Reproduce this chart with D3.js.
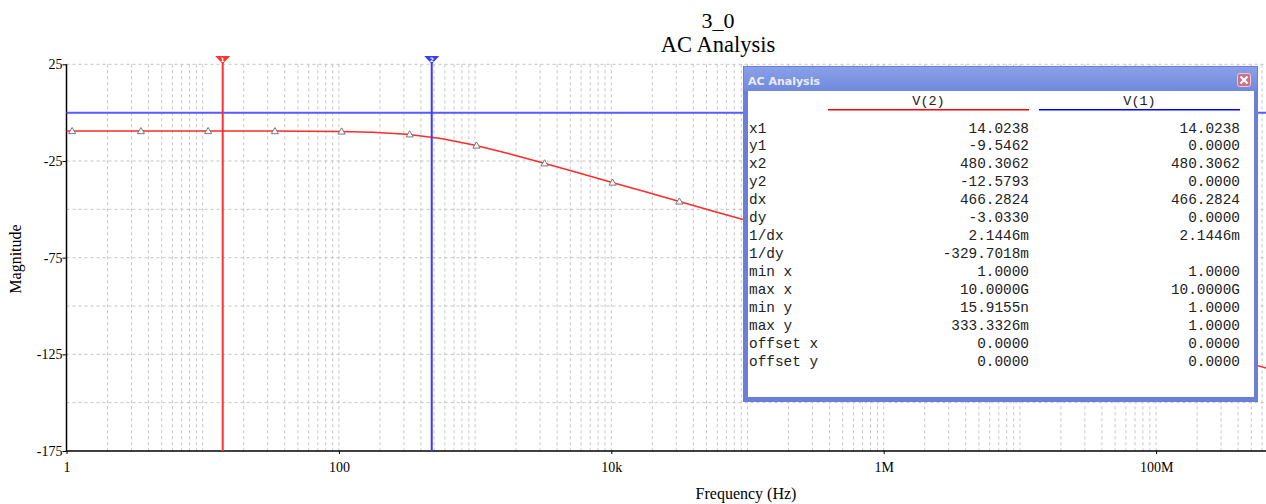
<!DOCTYPE html>
<html><head><meta charset="utf-8">
<script src="https://cdn.jsdelivr.net/npm/d3@7/dist/d3.min.js"></script>
<style>html,body{margin:0;padding:0;background:#fff;overflow:hidden}svg{display:block}</style>
</head><body><svg id="c" width="1266" height="504"></svg>
<script>
// ---- data ----
const freqHz = [1, 1.778, 3.162, 5.623, 10, 17.78, 31.62, 56.23, 100, 177.8, 316.2, 562.3,
  1000, 1778, 3162, 5623, 10000, 17783, 31623, 56234, 1e5, 3.162e5, 1e6, 3.162e6, 1e7,
  3.162e7, 1e8, 3.162e8, 1e9, 3.162e9, 1e10];
const magV2 = [-9.54, -9.54, -9.54, -9.54, -9.54, -9.55, -9.56, -9.60, -9.73, -10.11, -11.12, -13.32,
  -16.85, -21.27, -26.06, -30.99, -35.97, -40.96, -45.96, -50.96, -55.96, -65.96, -75.96, -85.96, -95.96,
  -105.96, -115.96, -125.96, -135.96, -145.96, -155.96];
const markerHz = [1.1, 3.52, 10.96, 33.9, 104.7, 331, 1023, 3236, 10230, 31600];
const markerV2 = [-9.54, -9.54, -9.54, -9.56, -9.75, -11.25, -17.01, -26.25, -36.17, -45.96];
const magV1 = 0;
const cursorHz = [14.0238, 480.3062];
const cursorIds = ["1", "2"];
const xTickHz = [1, 100, 1e4, 1e6, 1e8];
const xTickLabels = ["1", "100", "10k", "1M", "100M"];
const yTicks = [25, -25, -75, -125, -175];
const yGrid = [25, 0, -25, -50, -75, -100, -125, -150];
const titleLines = ["3_0", "AC Analysis"];
const tableRows = ["x1","y1","x2","y2","dx","dy","1/dx","1/dy","min x","max x","min y","max y","offset x","offset y"];
const tableV2 = ["14.0238","-9.5462","480.3062","-12.5793","466.2824","-3.0330","2.1446m","-329.7018m","1.0000","10.0000G","15.9155n","333.3326m","0.0000","0.0000"];
const tableV1 = ["14.0238","0.0000","480.3062","0.0000","466.2824","0.0000","2.1446m","","1.0000","10.0000G","1.0000","1.0000","0.0000","0.0000"];
const seriesNames = ["V(2)", "V(1)"];

// ---- layout ----
const L = 66.5, T = 64.3, B = 451, R = 66.5 + 10 * 136.2;
const svg = d3.select("#c");
const x = d3.scaleLog().domain([1, 1e10]).range([L, R]);
const y = d3.scaleLinear().domain([-175, 25]).range([B, T]);
const serif = "'Liberation Serif','Times New Roman',serif";
const mono = "'Liberation Mono','Courier New',monospace";

// grid
const gridV = [];
for (let k = 0; k < 10; k++) for (let m = 1; m < 10; m++) { const v = m * Math.pow(10, k); if (v > 1) gridV.push(v); }
svg.append("g").selectAll("line").data(gridV).join("line")
  .attr("x1", d => x(d)).attr("x2", d => x(d)).attr("y1", T).attr("y2", B)
  .attr("stroke", "#c4c4c4").attr("stroke-width", 1).attr("stroke-dasharray", "3,3");
svg.append("g").selectAll("line").data(yGrid).join("line")
  .attr("x1", L).attr("x2", R).attr("y1", d => y(d)).attr("y2", d => y(d))
  .attr("stroke", "#c4c4c4").attr("stroke-width", 1).attr("stroke-dasharray", "3,3");

// axes
const yAxis = d3.axisLeft(y).tickValues(yTicks).tickSize(4).tickFormat(d => String(d));
const gy = svg.append("g").attr("transform", `translate(${L},0)`).call(yAxis);
gy.select(".domain").attr("stroke", "#000").attr("stroke-width", 1.5).attr("d", `M0,${T}V${B}`);
gy.selectAll("text").attr("font-family", serif).attr("font-size", 14).attr("fill", "#000").attr("x", -4);
const xAxis = d3.axisBottom(x).tickValues(xTickHz).tickSize(3).tickFormat((d, i) => xTickLabels[i]);
const gx = svg.append("g").attr("transform", `translate(0,${B})`).call(xAxis);
gx.select(".domain").attr("stroke", "#000").attr("stroke-width", 1.5).attr("d", `M${L},0H${R}`);
gx.selectAll("text").attr("font-family", serif).attr("font-size", 14).attr("fill", "#000").attr("y", 11);

// V(1) line
svg.append("line").attr("x1", L).attr("x2", R).attr("y1", y(magV1)).attr("y2", y(magV1))
  .attr("stroke", "#5a5aff").attr("stroke-width", 2);

// V(2) curve
const line = d3.line().x((d, i) => x(freqHz[i])).y(d => y(d));
svg.append("path").datum(magV2).attr("d", line).attr("fill", "none")
  .attr("stroke", "#ff2a2a").attr("stroke-width", 1.5);
svg.append("g").selectAll("path").data(markerHz).join("path")
  .attr("d", d3.symbol(d3.symbolTriangle, 22))
  .attr("transform", (d, i) => `translate(${x(d)},${y(markerV2[i]) + 0.5})`)
  .attr("fill", "#fff").attr("stroke", "#777").attr("stroke-width", 1);

// cursors
const cursorColors = ["#ff3030", "#3a3aff"];
const cg = svg.append("g").selectAll("g").data(cursorHz).join("g");
cg.append("line").attr("x1", d => x(d)).attr("x2", d => x(d)).attr("y1", 58).attr("y2", B)
  .attr("stroke", (d, i) => cursorColors[i]).attr("stroke-width", 2);
cg.append("path").attr("d", d => `M${x(d) - 7.5},56H${x(d) + 7.5}L${x(d)},64Z`)
  .attr("fill", (d, i) => cursorColors[i]);
cg.append("text").attr("x", d => x(d)).attr("y", 62).attr("text-anchor", "middle")
  .attr("font-family", "DejaVu Sans, sans-serif").attr("font-size", 6).attr("font-weight", "bold")
  .attr("fill", "#fff").text((d, i) => cursorIds[i]);

// titles
svg.append("text").attr("x", 718).attr("y", 28).attr("text-anchor", "middle")
  .attr("font-family", serif).attr("font-size", 22).text(titleLines[0]);
svg.append("text").attr("x", 718).attr("y", 52).attr("text-anchor", "middle")
  .attr("font-family", serif).attr("font-size", 22.5).text(titleLines[1]);
svg.append("text").attr("transform", "translate(21,259) rotate(-90)").attr("text-anchor", "middle")
  .attr("font-family", serif).attr("font-size", 16).text("Magnitude");
svg.append("text").attr("x", 746).attr("y", 499).attr("text-anchor", "middle")
  .attr("font-family", serif).attr("font-size", 16).text("Frequency (Hz)");

// dialog
const dlg = svg.append("g");
const defs = svg.append("defs");
const grad = defs.append("linearGradient").attr("id", "tb").attr("x1", 0).attr("x2", 0).attr("y1", 0).attr("y2", 1);
grad.append("stop").attr("offset", 0).attr("stop-color", "#8aa0e8");
grad.append("stop").attr("offset", 1).attr("stop-color", "#7189de");
dlg.append("rect").attr("x", 743).attr("y", 66).attr("width", 515).attr("height", 336).attr("fill", "#6a7fd8");
dlg.append("rect").attr("x", 744).attr("y", 67).attr("width", 513).attr("height", 24).attr("fill", "url(#tb)");
dlg.append("rect").attr("x", 748).attr("y", 91).attr("width", 506).attr("height", 306).attr("fill", "#fff");
dlg.append("text").attr("x", 748).attr("y", 85).attr("font-family", "'DejaVu Sans',sans-serif")
  .attr("font-weight", "bold").attr("font-size", 11).attr("fill", "#e8edfb").text("AC Analysis");
dlg.append("rect").attr("x", 1237.5).attr("y", 73.5).attr("width", 13).attr("height", 13).attr("rx", 2)
  .attr("fill", "#c97488").attr("stroke", "#eec8d0").attr("stroke-width", 1);
dlg.append("path").attr("d", "M1240.5,76.5L1247.5,83.5M1247.5,76.5L1240.5,83.5")
  .attr("stroke", "#fff").attr("stroke-width", 2);

// table
const colCenter = [928.5, 1139.5], colRight = [1029, 1240], colLeft = [828, 1039];
const lineColors = ["#ff0000", "#0000ff"];
seriesNames.forEach((n, i) => {
  dlg.append("text").attr("x", colCenter[i]).attr("y", 105).attr("text-anchor", "middle")
    .attr("font-family", mono).attr("font-size", 13.5).attr("fill", "#222").text(n);
  dlg.append("rect").attr("x", colLeft[i]).attr("y", 109).attr("width", colRight[i] - colLeft[i]).attr("height", 1.5)
    .attr("fill", lineColors[i]);
});
const rowY = i => 132.5 + i * 17.95;
dlg.append("g").selectAll("text").data(tableRows).join("text")
  .attr("x", 749).attr("y", (d, i) => rowY(i)).attr("font-family", mono).attr("font-size", 14.4)
  .attr("fill", "#222").text(d => d);
[tableV2, tableV1].forEach((col, c) => {
  dlg.append("g").selectAll("text").data(col).join("text")
    .attr("x", colRight[c]).attr("y", (d, i) => rowY(i)).attr("text-anchor", "end")
    .attr("font-family", mono).attr("font-size", 14.4).attr("fill", "#222").text(d => d);
});
</script></body></html>
